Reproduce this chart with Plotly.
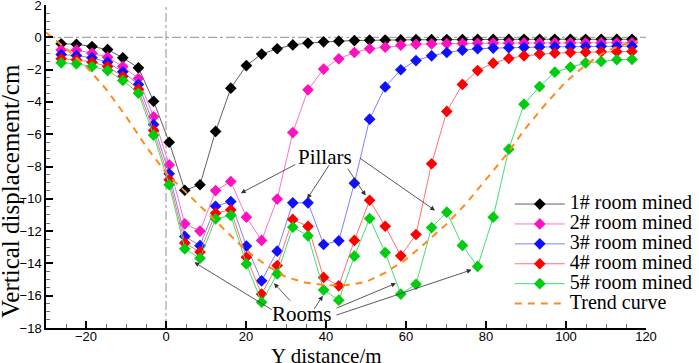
import plotly.graph_objects as go

# ---- data ----
y_distance = [-26.2, -22.4, -18.5, -14.6, -10.8, -6.9, -3.1, 0.8, 4.7, 8.5,
              12.4, 16.2, 20.1, 23.9, 27.8, 31.7, 35.5, 39.4, 43.2, 47.1,
              50.9, 54.8, 58.7, 62.5, 66.4, 70.2, 74.1, 77.9, 81.8, 85.7,
              89.5, 93.4, 97.2, 101.1, 104.9, 108.8, 112.7, 116.5]

room1 = [-0.40, -0.43, -0.57, -0.76, -1.27, -1.89, -3.96, -6.50, -9.47, -9.13,
         -5.83, -3.15, -1.75, -1.04, -0.71, -0.47, -0.36, -0.28, -0.24, -0.20,
         -0.18, -0.17, -0.16, -0.15, -0.15, -0.14, -0.14, -0.13, -0.13, -0.13,
         -0.12, -0.12, -0.12, -0.12, -0.12, -0.12, -0.12, -0.12]
room2 = [-0.78, -0.80, -0.98, -1.23, -1.81, -2.55, -4.92, -7.90, -11.55, -12.00,
         -9.49, -8.93, -11.14, -12.58, -10.02, -5.90, -3.25, -1.97, -1.33, -0.94,
         -0.71, -0.61, -0.49, -0.43, -0.41, -0.39, -0.38, -0.37, -0.36, -0.36,
         -0.35, -0.35, -0.35, -0.34, -0.34, -0.34, -0.34, -0.34]
room3 = [-1.07, -1.13, -1.27, -1.54, -2.14, -2.92, -5.40, -8.45, -12.33, -12.90,
         -10.46, -10.17, -12.93, -15.08, -13.24, -10.25, -10.25, -12.83, -12.60, -9.03,
         -5.07, -3.07, -2.01, -1.44, -1.15, -0.94, -0.80, -0.71, -0.67, -0.64,
         -0.62, -0.60, -0.59, -0.58, -0.57, -0.56, -0.56, -0.55]
room4 = [-1.33, -1.39, -1.54, -1.81, -2.43, -3.21, -5.77, -8.82, -12.73, -13.30,
         -10.89, -10.68, -13.62, -15.90, -14.13, -11.28, -11.71, -14.87, -15.39, -12.58,
         -10.09, -11.70, -13.53, -12.21, -7.83, -4.59, -2.92, -2.06, -1.60, -1.31,
         -1.15, -1.04, -0.98, -0.94, -0.92, -0.90, -0.89, -0.88]
room5 = [-1.58, -1.64, -1.81, -2.06, -2.67, -3.46, -6.06, -9.13, -13.10, -13.68,
         -11.24, -11.03, -14.03, -16.40, -14.65, -11.76, -12.29, -15.64, -16.28, -13.55,
         -11.22, -13.33, -15.90, -15.29, -11.78, -10.83, -12.89, -14.19, -11.14, -6.93,
         -4.14, -3.05, -2.16, -1.85, -1.58, -1.50, -1.39, -1.37]

trend_x = [-30, -26, -20, -15, -10, -5, 0, 5, 10, 15, 20, 25, 30, 35, 40, 45, 50,
           55, 60, 65, 70, 75, 80, 85, 90, 95, 100, 105, 110, 115, 118]
trend_y = [0.3, -0.49, -1.8, -3.2, -4.9, -6.75, -8.4, -9.6, -10.75, -12.0, -13.2,
           -14.1, -14.85, -15.2, -15.35, -15.35, -15.15, -14.55, -13.75, -12.7,
           -11.6, -10.3, -8.8, -7.3, -5.6, -4.1, -2.75, -1.7, -0.85, -0.4, -0.25]

series_names = ["1# room mined", "2# room mined", "3# room mined",
                "4# room mined", "5# room mined"]
series_values = [room1, room2, room3, room4, room5]

x_ticks = [-20, 0, 20, 40, 60, 80, 100, 120]
y_ticks = [2, 0, -2, -4, -6, -8, -10, -12, -14, -16, -18]

# ---- styles ----
line_colors = ["#606060", "#ff70cc", "#8080ff", "#ff7070", "#40e070"]
marker_colors = ["#000000", "#ff10c0", "#1010ff", "#ff0000", "#00cc10"]
SERIF = "Liberation Serif, Times New Roman, serif"
SANS = "Liberation Sans, Arial, sans-serif"
LEG_SPAN = '<span style="font-size:20px">{}</span>'

fig = go.Figure()

for name, vals, lc, mc in zip(series_names, series_values, line_colors, marker_colors):
    fig.add_trace(go.Scatter(
        x=y_distance, y=vals, mode="lines+markers",
        name=LEG_SPAN.format(name),
        line=dict(color=lc, width=1),
        marker=dict(symbol="diamond", size=9, color=mc, line=dict(width=0)),
    ))

fig.add_trace(go.Scatter(
    x=trend_x, y=trend_y, mode="lines",
    name=LEG_SPAN.format("Trend curve"),
    line=dict(color="#ff8c1a", width=2, dash="7px,6px"),
))

# reference dash-dot lines at zero
fig.add_shape(type="line", xref="paper", yref="y", x0=0, x1=1, y0=0, y1=0,
              line=dict(color="#909090", width=1, dash="dashdot"), layer="below")
fig.add_shape(type="line", xref="x", yref="paper", x0=0, x1=0, y0=0, y1=1,
              line=dict(color="#909090", width=1, dash="dashdot"), layer="below")

# annotations (text)
fig.add_annotation(x=39.75, y=-7.42, text="Pillars", showarrow=False,
                   font=dict(family=SERIF, size=21, color="black"))
fig.add_annotation(x=34.1, y=-17.12, text="Rooms", showarrow=False,
                   font=dict(family=SERIF, size=21, color="black"))

pillar_arrows = [((32.7, -7.83), (18.7, -9.65)),
                 ((41.0, -7.83), (35.3, -10.0)),
                 ((45.2, -8.04), (49.9, -9.8)),
                 ((48.1, -7.42), (67.25, -10.72))]
room_arrows = [((26.8, -16.92), (7.1, -13.93)),
               ((31.4, -16.4), (27.0, -15.23)),
               ((36.8, -16.92), (39.2, -16.0)),
               ((42.25, -16.81), (57.5, -15.23)),
               ((42.25, -17.23), (76.4, -14.4))]
for (tx, ty), (hx, hy) in pillar_arrows + room_arrows:
    fig.add_annotation(x=hx, y=hy, ax=tx, ay=ty, axref="x", ayref="y",
                       text="", showarrow=True, arrowhead=2, arrowsize=1.2,
                       arrowwidth=0.8, arrowcolor="#303030", standoff=0, startstandoff=0)

# axis titles as annotations
fig.add_annotation(xref="paper", yref="paper", x=0.468, y=-0.087,
                   text="Y distance/m", showarrow=False, yanchor="middle",
                   font=dict(family=SERIF, size=21, color="black"))
fig.add_annotation(xref="paper", yref="paper", x=-0.059, y=0.423,
                   text="Vertical displacement/cm", showarrow=False, textangle=-90,
                   xanchor="center", yanchor="middle",
                   font=dict(family=SERIF, size=25, color="black"))

fig.update_layout(
    width=699, height=363,
    margin=dict(l=46, r=53, t=5, b=35, autoexpand=False),
    paper_bgcolor="white", plot_bgcolor="white",
    showlegend=True,
    legend=dict(x=0.773, y=0.43, xanchor="left", yanchor="top",
                bgcolor="rgba(0,0,0,0)", borderwidth=0,
                font=dict(family=SERIF, size=13, color="black"),
                itemwidth=50, tracegroupgap=0, traceorder="normal"),
    xaxis=dict(range=[-30, 120], tickvals=x_ticks, ticks="inside", ticklen=7,
               tickwidth=1.5, tickcolor="black", showline=True, linecolor="black",
               linewidth=1.5, showgrid=False, zeroline=False,
               ticklabeloverflow="allow", ticklabelstandoff=-4,
               tickfont=dict(family=SANS, size=13, color="black"),
               minor=dict(dtick=5, ticks="inside", ticklen=4, tickcolor="#707070", tickwidth=1)),
    yaxis=dict(range=[-18, 2], tickvals=y_ticks, ticks="inside", ticklen=7,
               tickwidth=1.5, tickcolor="black", showline=True, linecolor="black",
               linewidth=1.5, showgrid=False, zeroline=False,
               ticklabeloverflow="allow",
               tickfont=dict(family=SANS, size=13, color="black"),
               minor=dict(dtick=0.5, ticks="inside", ticklen=4, tickcolor="#707070", tickwidth=1)),
)

fig.write_html("out.html", config={"displayModeBar": False},
               post_script="document.body.style.margin='0';document.body.style.overflow='hidden';")
